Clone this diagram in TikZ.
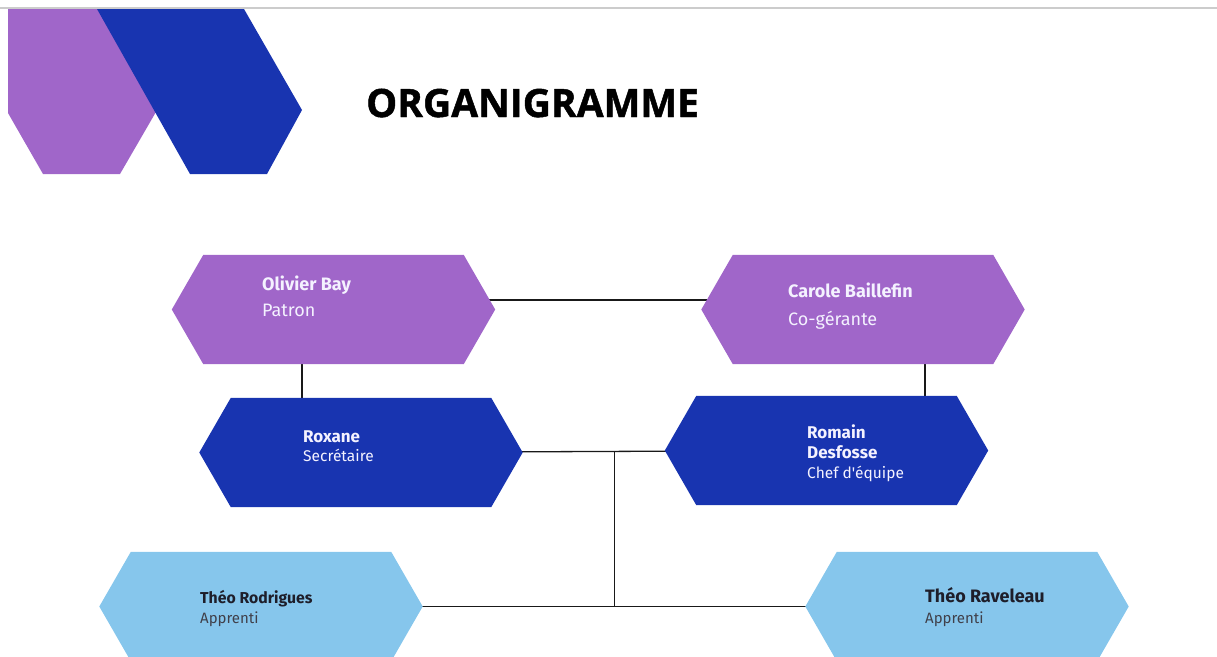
\documentclass[tikz,border=0pt]{standalone}
\usepackage{fontspec}
\setmainfont{Fira Sans}
\newfontfamily\plainfont{Fira Sans}
\newfontfamily\titlefont{Open Sans}[BoldFeatures={FakeBold=1.2}]
\usetikzlibrary{calc,backgrounds}
\definecolor{cpurple}{HTML}{A066C9}
\definecolor{cblue}{HTML}{1834B0}
\definecolor{clight}{HTML}{86C6EC}
\definecolor{cdark}{HTML}{1E1E2A}
\definecolor{cwhite}{HTML}{F4F2FF}
\begin{document}
\begin{tikzpicture}[x=1pt,y=-1pt,
  hexnode/.style={rectangle,inner sep=0pt,minimum width=323pt,minimum height=109pt},
  nametext/.style={anchor=base west,inner sep=0pt,font=\bfseries\fontsize{#1}{#1}\selectfont},
  roletext/.style={anchor=base west,inner sep=0pt,font=\fontsize{#1}{#1}\selectfont},
  conn/.style={draw=black!90,line width=1.3pt}]
\clip (0,0) rectangle (1217,656);
% top rule
\draw[color=black!20,line width=1.5pt] (0,8) -- (1217,8);
% decorative shapes
\fill[cpurple] (8,9) -- (100,9) -- (160,105) -- (120,174) -- (43,174) -- (8,113) -- cycle;
\fill[cblue] (97,9) -- (244,9) -- (302,110) -- (267,174) -- (190,174) -- cycle;
% title
\node[anchor=base west,inner sep=0pt,font=\titlefont\bfseries\fontsize{39}{39}\selectfont] (title) at (366,117) {ORGANIGRAMME};
% nodes
\node[hexnode] (olivier) at (333.5,309.5) {};
\node[hexnode] (carole) at (863,309.5) {};
\node[hexnode] (roxane) at (361,452.5) {};
\node[hexnode] (romain) at (826.5,450.5) {};
\node[hexnode] (rodrigues) at (261,606.5) {};
\node[hexnode] (raveleau) at (967,606.5) {};
\coordinate (j1) at ($(roxane.east)!0.648!(romain.west)$);
\begin{pgfonlayer}{background}
  \draw[conn] ([yshift=9.5pt]olivier.center) -- ([yshift=9.5pt]carole.center);
  \draw[conn] ([xshift=-31.5pt]olivier.south) -- ([xshift=-31.5pt]olivier.south |- roxane.north);
  \draw[conn] ([xshift=62pt]carole.south) -- ([xshift=62pt]carole.south |- romain.north);
  \draw[conn] (roxane.center) -- (romain.center);
  \draw[conn] (j1) -- (j1 |- rodrigues.center);
  \draw[conn] (rodrigues.center) -- (raveleau.center);
  \foreach \n/\c in {olivier/cpurple,carole/cpurple,roxane/cblue,romain/cblue,rodrigues/clight,raveleau/clight}{
    \fill[\c] (\n.west) -- ([xshift=31.5pt]\n.north west) -- ([xshift=-31.5pt]\n.north east)
      -- (\n.east) -- ([xshift=-31.5pt]\n.south east) -- ([xshift=31.5pt]\n.south west) -- cycle;
  }
\end{pgfonlayer}
% texts
\node[nametext=18,text=cwhite] (olivier-n) at (262,290) {Olivier Bay};
\node[roletext=18,text=cwhite] (olivier-r) at (262,316) {Patron};
\node[nametext=18,text=cwhite] (carole-n) at (788,297) {Carole Baillefin};
\node[roletext=18,text=cwhite] (carole-r) at (788,325) {Co-gérante};
\node[nametext=17,text=cwhite] (roxane-n) at (303,442) {Roxane};
\node[roletext=15.5,text=cwhite] (roxane-r) at (303,461) {Secrétaire};
\node[nametext=17,text=cwhite] (romain-n1) at (807,438) {Romain};
\node[nametext=17,text=cwhite] (romain-n2) at (807,458) {Desfosse};
\node[roletext=15.5,text=cwhite] (romain-r) at (807,478) {Chef d{\plainfont '}équipe};
\node[nametext=15.8,text=cdark] (rodrigues-n) at (200,603) {Théo Rodrigues};
\node[roletext=15,text=cdark!85] (rodrigues-r) at (200,623) {Apprenti};
\node[nametext=18,text=cdark] (raveleau-n) at (925,602) {Théo Raveleau};
\node[roletext=15,text=cdark!85] (raveleau-r) at (925,623) {Apprenti};
\end{tikzpicture}
\end{document}
